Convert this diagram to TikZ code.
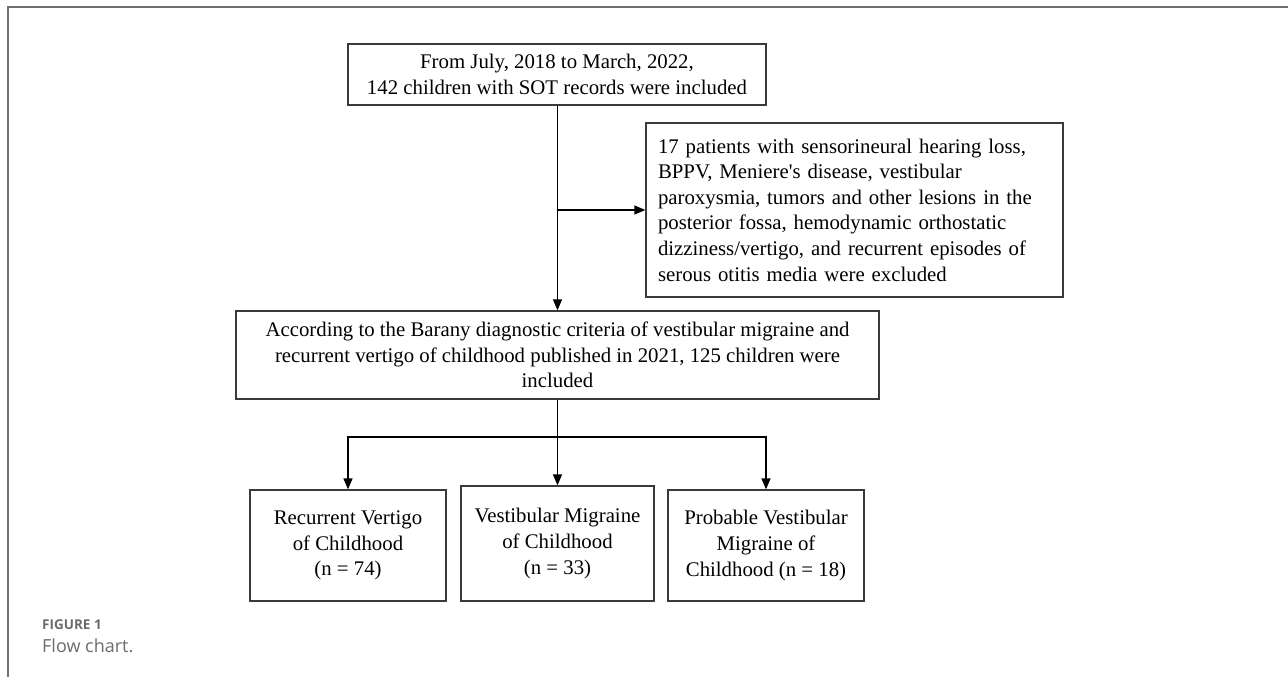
\documentclass[tikz,border=0pt]{standalone}
\usepackage{fontspec}
\setmainfont{Liberation Serif}
\newfontfamily\capfont{Open Sans}
\usetikzlibrary{arrows.meta}
\definecolor{frameg}{HTML}{707070}
\definecolor{boxg}{HTML}{3A3A3A}
\definecolor{capg}{HTML}{6B6B6B}
\tikzset{
  box/.style={draw=boxg, line width=1.3pt, inner sep=0pt, align=center,
    font=\fontsize{20.8}{25.6}\selectfont},
  conn/.style={draw=black, line width=1.3pt},
  arr/.style={conn, -{Triangle[length=11pt,width=9pt]}},
}
\begin{document}
\begin{tikzpicture}[x=1pt,y=-1pt]
\useasboundingbox (0,0) rectangle (1288,677);
\draw[frameg, line width=1.6pt] (8,677) -- (8,7) -- (1288,7);

\node[box, minimum width=418pt, minimum height=61pt] (top) at (557,74.5)
  {From July, 2018 to March, 2022,\\142 children with SOT records were included};
\node[box, inner xsep=12pt, text width=393pt, align=left, minimum height=174pt] (excl) at (854.5,210)
  {17 patients with sensorineural hearing loss,\\
   BPPV, Meniere\textquotesingle s disease, vestibular\\
   paroxysmia, tumors and other lesions in the\\
   posterior fossa, hemodynamic orthostatic\\
   dizziness/vertigo, and recurrent episodes of\\
   serous otitis media were excluded};
\node[box, minimum width=643pt, minimum height=88pt] (mid) at (557.5,355)
  {According to the Barany diagnostic criteria of vestibular migraine and\\
   recurrent vertigo of childhood published in 2021, 125 children were\\
   included};
\node[box, minimum width=196pt, minimum height=111pt] (b1) at (348,545.5)
  {Recurrent Vertigo\\of Childhood\\(n = 74)};
\node[box, minimum width=193pt, minimum height=115pt] (b2) at (557.5,543.5)
  {Vestibular Migraine\\of Childhood\\(n = 33)};
\node[box, minimum width=196pt, minimum height=111pt] (b3) at (766,545.5)
  {Probable Vestibular\\Migraine of\\Childhood (n = 18)};

\coordinate (j1) at (557.5,210);
\coordinate (j2) at (557.5,437);
\draw[arr] (top.south -| j1) -- (mid.north -| j1);
\draw[arr] (j1) -- (excl.west);
\draw[arr] (mid.south -| j2) -- (b2.north -| j2);
\draw[arr] (j2) -| (b1.north);
\draw[arr] (j2) -| (b3.north);

\node[anchor=base west, inner sep=0pt, text=capg, font=\capfont\fontsize{13.5}{15}\selectfont\bfseries] (fig) at (42,629) {FIGURE 1};
\node[anchor=base west, inner sep=0pt, text=capg, font=\capfont\fontsize{18}{20}\selectfont] (cap) at (42,652) {Flow chart.};
\end{tikzpicture}
\end{document}
